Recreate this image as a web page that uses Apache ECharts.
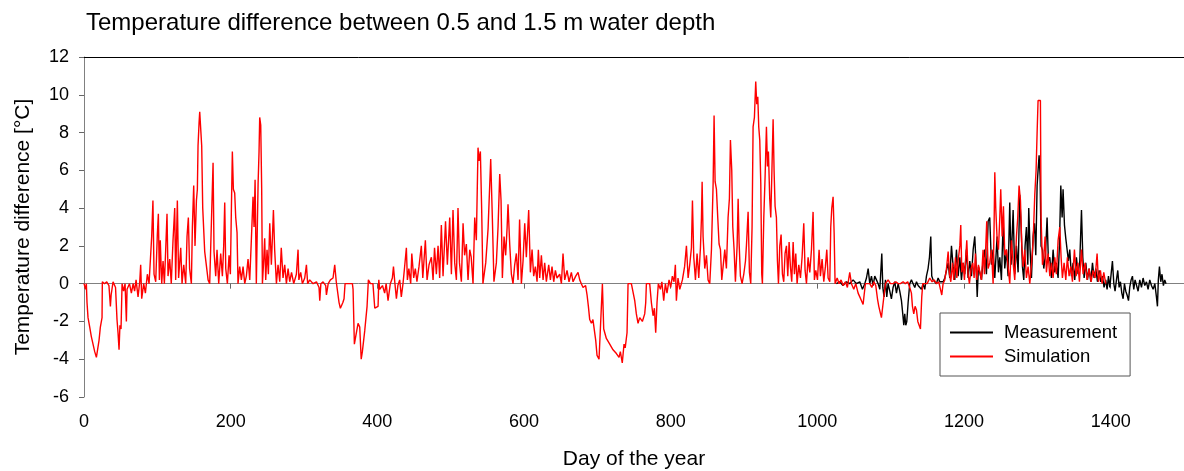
<!DOCTYPE html>
<html>
<head>
<meta charset="utf-8">
<script src="https://cdn.jsdelivr.net/npm/echarts@6/dist/echarts.min.js"></script>
<style>
  html, body { margin: 0; padding: 0; background: #fff; }
  #chart { width: 1184px; height: 471px; }
</style>
</head>
<body>
<div id="chart"></div>
<script>
// Simulation: day of the year / temperature difference (°C)
const simDays = [
  0, 1.4, 2.3, 3.2, 4.1, 5.5, 7.8, 10, 12.3, 14.6, 16.9, 19.1, 20.5, 22.3, 24.6, 25, 28, 31, 34, 36, 37, 39.6,
  42, 43, 45, 46.4, 47.8, 49, 50.5, 51.9, 54, 56, 57.8, 58.7, 62, 64.6, 67, 69, 71, 73.7, 76, 77.3, 78.7,
  81.4, 83.7, 86.4, 88.7, 91, 92.3, 94, 95.5, 97.8, 100, 101.4, 102.8, 104, 106, 107.8, 109.6, 111.4, 113.2,
  114.6, 116.9, 119, 121.4, 123.7, 125, 127.3, 129, 131.9, 133.7, 136, 138.7, 140.5, 142.3, 144, 146.4,
  147.8, 149.6, 151.4, 153.3, 154.6, 155.5, 156.9, 157.8, 159.2, 160.5, 161.9, 163, 164.6, 166.9, 169.2,
  171.4, 173.7, 176, 177.3, 179.6, 181.4, 183.7, 186.4, 188.7, 190.5, 191.9, 193.3, 195.5, 197.8, 199.6,
  201, 202.3, 203.7, 205.5, 206.9, 208.7, 210, 212.3, 214.6, 216.9, 219.2, 221.4, 223.7, 226, 228.3, 230.5,
  231.9, 233.3, 235, 237.4, 238.7, 239.6, 241, 242.3, 243.3, 245, 246.4, 247.8, 249.6, 251.4, 253.3, 255.5,
  256.9, 258.3, 260, 262.4, 264.6, 266.9, 269, 271.4, 273.7, 276, 278.3, 280.5, 283, 286, 289.6, 291.9,
  293, 295.5, 297.8, 301, 303.3, 305, 307.8, 312.4, 317, 320.5, 321.5, 323, 326, 329.6, 330.6, 333, 336,
  339.6, 341.9, 344, 346.5, 347.8, 349.6, 353, 354.6, 356, 360, 363, 366, 366.9, 368.7, 370.5, 373.7, 376,
  378, 379.6, 382.8, 386, 387.8, 390.6, 394, 396.5, 398.7, 401, 402, 403.2, 407, 410, 412, 414.6, 417.7,
  420.5, 422, 424, 426, 428, 430.5, 432.7, 435, 437, 439.6, 441, 443, 445.5, 447, 449.6, 451.8, 454, 456.8,
  460, 462, 465.5, 467.8, 470.5, 473.7, 476, 478, 480.5, 482.8, 485, 487.3, 489.6, 493, 495.5, 498.7, 501,
  503.2, 505.5, 507.8, 510, 512, 514.6, 516.9, 519, 521.4, 523.7, 526, 528, 530.5, 532.8, 535, 537.3, 538.7,
  540.5, 542.3, 544, 547.8, 551, 554.6, 556.9, 559, 562.3, 564.6, 566.9, 568.7, 570.5, 572.8, 575, 577,
  578.2, 580.5, 582.8, 585, 587.3, 589.6, 591.9, 594, 596.4, 598.7, 601, 603.2, 606.4, 608.7, 611, 613.2,
  615.5, 617.8, 619.6, 621.4, 623.7, 626, 628.2, 630.5, 633.7, 636, 638.2, 640.5, 642.8, 645, 648.7, 651,
  653.2, 655.5, 658.7, 661.4, 664.6, 666.9, 670.5, 673.7, 676, 678.2, 680.5, 684, 686, 687.8, 689.6, 691.9,
  694, 696.4, 697.8, 699.6, 702.3, 705, 706.9, 708.7, 712.3, 716.9, 721.4, 726, 729.6, 731.4, 734, 736.4,
  738, 740.5, 741.9, 746.4, 748.7, 751, 753.2, 755.5, 757.8, 761.4, 764.6, 766, 766.9, 771.4, 773.7, 776,
  777.8, 779.6, 781.4, 783.2, 786, 788, 790.5, 792.8, 795, 797.8, 800, 802.3, 804.6, 806.4, 807.8, 810,
  812.4, 816, 819, 821.5, 823.8, 826, 828.3, 829.7, 831.5, 833.8, 836, 838.3, 840.6, 842, 842.9, 844.2,
  846.5, 848.8, 851, 853.3, 855.6, 857.9, 859.2, 860.6, 862.4, 864.2, 866, 867.9, 869.7, 871.5, 873.8, 876,
  878.3, 880.1, 881.5, 883.3, 884.7, 886.5, 888.3, 890.6, 892, 893.3, 895.1, 897.4, 899.7, 902, 903.3,
  905.6, 907.4, 909.2, 911, 912.4, 914.2, 916, 917.4, 918.8, 920.1, 921.5, 922.9, 924.2, 925.1, 927, 928.8,
  930.6, 932, 933.3, 935.1, 936.5, 937.9, 939.7, 941, 942.4, 944.2, 945.6, 947, 948.8, 950.6, 952.4, 954.2,
  956, 957.9, 959.7, 961.5, 963.3, 965.1, 967, 968.8, 970.6, 972.4, 974.7, 977, 979.2, 981.5, 983.3, 985.2,
  987.4, 989.7, 992, 994.2, 996, 997.9, 1000.2, 1002.4, 1004.2, 1006.5, 1008.8, 1011, 1012.9, 1014.7, 1017,
  1018.3, 1019.7, 1021.5, 1022.9, 1024.2, 1027, 1029.7, 1032.4, 1035.2, 1038.3, 1041, 1044.2, 1046.5,
  1049.7, 1052.4, 1055.6, 1057.9, 1060.2, 1062.4, 1063.8, 1065.6, 1068.3, 1071.5, 1074.3, 1077, 1079.7,
  1082, 1083.8, 1085.6, 1087.4, 1089.3, 1091, 1092.9, 1096.5, 1099.7, 1103.3, 1107, 1110.2, 1113.3, 1117,
  1120, 1123.3, 1126, 1128.3, 1129.7, 1131.5, 1133.3, 1135.2, 1137, 1138.8, 1140.6, 1142.4, 1143.8, 1146.5,
  1149.7, 1153.3, 1156.5, 1159.3, 1162.4, 1165.6, 1167.9, 1169.7, 1171.5, 1173.8, 1176.1, 1178.4, 1180.2,
  1182, 1184.3, 1186, 1188.4, 1190.2, 1192, 1194.3, 1195.6, 1197, 1198.8, 1200.6, 1202.5, 1203.8, 1205.6,
  1207.4, 1209.7, 1212, 1213.8, 1215.6, 1217.4, 1219.7, 1221.5, 1223.8, 1226, 1227.9, 1229.7, 1231, 1232.9,
  1235.1, 1237.4, 1239.7, 1241, 1242, 1243.3, 1245.1, 1247, 1248.8, 1250.1, 1252, 1253.8, 1255.6, 1257.9,
  1260.1, 1262.4, 1264.7, 1267, 1269.2, 1271.5, 1273.3, 1275.1, 1277, 1278.8, 1280.6, 1282.9, 1285.1,
  1287.4, 1289.7, 1292, 1294.2, 1296.5, 1298.3, 1299.7, 1301, 1302.4, 1304.2, 1305.1, 1307, 1308.8, 1310.6,
  1312.4, 1314.7, 1317, 1319.2, 1321.5, 1323.8, 1326, 1328.3, 1330.6, 1332.4, 1334.2, 1336.5, 1338.8, 1341,
  1343.3, 1345.6, 1347.9, 1350.6, 1352.9, 1355.2, 1357.4, 1360.2, 1362.4, 1365.2, 1367.9, 1370.6, 1373.3,
  1376, 1378.8, 1381.5, 1383.3, 1386, 1388.3, 1390.6, 1393.3
];
const simValues = [
  0, 0, -0.3, 0, -1.0, -1.8, -2.3, -2.8, -3.2, -3.6, -3.9, -3.8, -3.0, -2.3, -1.8, 0.1, 0, 0.1, -0.1, -1.2, -0.6, 0.1,
  0, -0.2, -1.9, -2.6, -3.5, -2.2, -2.4, 0, -0.4, 0, -2.0, -0.3, 0, -0.5, 0, -0.4, 0.2, -0.7, 0.1, 1.0, -0.8,
  0, -0.5, 0.5, 0, 0.1, 2.5, 4.4, 0.5, 0.1, 2.6, 3.7, 0.2, 2.3, 0, 1.2, 0, 1.8, 3.7,
  0.4, 1.3, 0, 2.3, 4.0, 0.2, 4.4, 0.3, 1.9, 0, 1.0, 0, 2.5, 3.5, 0.8, 0,
  3.0, 5.2, 2.0, 4.4, 5.0, 7.3, 8.5, 9.1, 9.1, 7.3, 4.0, 3.9, 1.7, 1.7, 0.2,
  0, 0.1, 6.4, 1.7, 0.4, 1.8, 0, 1.6, 0.4, 2.0, 4.3, 0.8, 0, 1.5, 0.5,
  4.0, 7.0, 5.0, 4.8, 3.5, 2.7, 0, 0.9, 0.2, 0.9, 0, 0.4, 1.3, 0.2, 2.4, 4.6,
  3.0, 5.5, 0, 5.3, 7.0, 8.8, 8.4, 5.0, 0, 1.2, 2.4, 0.2, 1.8, 0.5, 3.2, 1.0,
  2.4, 3.9, 1.8, 0, 1.0, 0.1, 1.9, 0.3, 1.0, 0, 0.8, 0.1, 0.6, 0, 0.5, 1.8,
  0.2, 0.6, 0, 0.3, 1.0, 0, 0.2, 0, 0.1, -0.2, -0.9, 0, 0.1, -0.1, -0.6, 0, 0.2,
  0.3, 1.0, 0.1, 0, -1.0, -1.3, -1.0, -0.8, 0, 0, 0, 0, -0.3, -3.2, -2.8, -2.1, -2.3,
  -4.0, -3.6, -2.5, -1.2, 0.2, 0, 0, -1.3, -1.3, -1.2, 0.2, -0.3, -0.1, -0.5, 0, -0.9, 0,
  0.3, 0.9, 0, -0.8, -0.1, 0.2, -0.7, 0, 0.8, 1.9, 0.2, 0.8, 0, 1.6, 0.3, 0.8, 0.1, 0.9,
  2.0, 0.3, 2.3, 0.2, 1.0, 1.4, 0.2, 1.9, 0.5, 2.0, 0.3, 3.1, 0.4, 3.3, 1.0, 3.5, 0.5,
  3.9, 1.1, 0.2, 4.0, 1.1, 0.1, 3.2, 1.5, 2.1, 0.2, 1.8, 1.4, 0, 3.5, 2.3, 7.2, 6.5,
  7.0, 3.9, 0, 1.1, 2.9, 6.6, 3.4, 0.1, 1.1, 3.0, 5.8, 4.4, 0.3, 2.5, 1.5, 3.0,
  4.2, 2.1, 0.5, 0, 1.0, 1.6, 0.2, 3.4, 0, 1.2, 3.2, 1.4, 3.9, 0.6, 1.8, 0.4,
  0.9, 0.1, 1.8, 0.3, 1.5, 0.2, 1.1, 0.1, 1.0, 0.2, 0.9, 0.1, 0.7, 0.3, 0.5, 0,
  1.6, 0.2, 0.7, 0.1, 0.6, 0.1, 0.4, 0.6, 0.2, 0, -0.2, -0.1, -0.6, -1.2, -1.9, -2.1,
  -1.9, -1.8, -3.0, -3.8, -4.0, -4.0, 0, -2.4, -2.9, -3.2, -3.5, -3.7, -3.9, -3.6, -4.2, -3.2,
  -3.4, -2.6, 0, 0, 0, -0.9, -1.6, -2.1, -1.8, -2.0, -1.6, -1.0, 0, 0, -1.0, -1.7,
  -1.3, -2.6, -1.0, 0, -0.3, 0.1, -0.9, 0, -0.5, 0.2, -0.2, 0.4, 0.1, 1.0, -0.9, 0.3,
  -0.3, 0.2, 0.9, 2.0, 0.3, 1.0, 1.9, 4.4, 1.4, 0.2, 1.6, 0.3, 1.9, 3.5, 5.4, 2.5,
  0.8, 1.5, 0.2, 0, 1.8, 5.3, 8.9, 5.4, 5.0, 3.5, 2.1, 1.8, 0.2, 0.9, 1.8, 0.8,
  3.5, 4.5, 7.6, 6.0, 3.0, 1.8, 0.1, 2.0, 4.5, 2.2, 0.4, 0, 0.5, 1.2, 2.0,
  3.8, 0.6, 0, 3.0, 8.3, 8.8, 10.7, 9.5, 9.9, 8.3, 7.6, 5.3, 0.5, 0, 3.5, 5.7,
  8.3, 6.2, 7.0, 4.5, 3.5, 5.7, 8.7, 6.0, 4.1, 3.5, 1.2, 0, 2.0, 2.6, 0.5, 0.1,
  1.6, 2.0, 0.4, 2.2, 0.9, 0.1, 2.2, 0.5, 1.6, 0, 1.0, 0.3, 1.4, 3.2, 0.7, 0,
  1.4, 0.6, 1.8, 3.8, 0.2, 0.7, 0.2, 1.8, 0.4, 1.3, 0.1, 0.9, 1.8, 0.3, 0.1,
  3.0, 4.0, 4.6, 2.7, 0, 0.3, 0, 0.2, -0.1, 0.1, -0.2, 0.6, 0,
  -0.3, 0, -0.5, -0.7, -0.9, -1.1, -0.6, 0, 0.1, 0, -0.2, 0.1, -0.1,
  -0.8, -1.2, -1.5, -1.8, -1.8, -0.6, 0, 0.2, 0, 0, 0.1, 0, 0, 0.1,
  0, 0.1, -0.2, -0.5, -1.2, -1.6, -1.2, -1.4, -2.0, -2.1, -2.4, -0.7, 0, 0.1,
  0, 0.3, 0.1, 0.2, 0, 0.1, -0.3, -0.6, 0, 0.2, 0.8, 1.7, 0.5,
  0.1, 1.1, 0.2, 1.4, 0.3, 1.2, 2.0, 3.1, 0.6, 1.1, 0.2, 1.5, 2.3, 0.5,
  0, 0.8, 1.1, 0.3, 1.6, 0.2, 1.0, 0.9, 0.2, 1.8, 0.5, 2.0, 3.3, 0.8,
  1.1, 1.8, 0, 3.0, 5.9, 4.0, 2.4, 1.8, 3.5, 5.0, 2.5, 4.1, 1.5, 1.8,
  0.9, 0, 2.3, 1.1, 0.2, 2.5, 3.5, 5.2, 4.4, 2.0, 0.9, 1.8, 0.3,
  0.9, 0, 1.0, 2.2, 4.7, 6.0, 8.0, 9.7, 9.7, 9.7, 3.5, 1.0, 1.4, 2.5,
  0.6, 1.6, 0.4, 1.1, 0.3, 1.4, 0.5, 2.3, 3.0, 1.4, 0.3, 1.1, 0.2, 1.4,
  0.4, 0.9, 0.1, 1.8, 0.4, 1.1, 0.1, 1.8, 0.5, 1.1, 0.2, 0.8, 0.1,
  0.7, 0.3, 1.6, 0.1, 0.7, 0, 0.6, 0
];

// Measurement: day of the year / temperature difference (°C)
const measDays = [
  1026, 1030.6, 1035, 1039.7, 1044.2, 1048.8, 1053.3, 1057.9, 1061.5, 1064.7, 1067, 1069.3, 1071.5, 1073.8,
  1076, 1078.3, 1080.6, 1082.9, 1085.2, 1086.5, 1087.9, 1089.3, 1091, 1092.9, 1094.7, 1096.5, 1098.8, 1101,
  1103.3, 1105.6, 1107.9, 1110.2, 1112.4, 1114.7, 1116.5, 1117.9, 1119.2, 1120.6, 1122, 1123.8, 1126, 1128.3,
  1130.6, 1132.9, 1135.2, 1137.4, 1139.7, 1142, 1144.2, 1146.5, 1148.8, 1151, 1152.9, 1154.7, 1156, 1157.9,
  1160.2, 1162.4, 1164.7, 1167, 1169.3, 1171.5, 1173.8, 1176.1, 1178.4, 1180.6, 1182.9, 1185.2, 1187.4,
  1189.7, 1192, 1194.3, 1196.5, 1198.8, 1201, 1203.3, 1205.6, 1207.9, 1210.2, 1212.5, 1214.7, 1216, 1218,
  1219.7, 1221.5, 1223.8, 1226, 1228.3, 1230.6, 1232.9, 1235.1, 1237.4, 1239.7, 1242, 1245.1, 1247, 1248.8,
  1251, 1253.3, 1255.6, 1257.9, 1260.1, 1262.4, 1264.2, 1267, 1269.2, 1271.5, 1273.8, 1276, 1277.9, 1279.7,
  1281.5, 1283.3, 1285.1, 1287, 1288.3, 1290.1, 1292, 1294.2, 1296.1, 1297.9, 1299.7, 1301, 1302.4, 1303.8,
  1305.1, 1307, 1308.8, 1311, 1313.3, 1315.1, 1317, 1319.2, 1321.5, 1323.8, 1326, 1328.3, 1330.1, 1332,
  1333.8, 1335.1, 1337, 1338.8, 1340.6, 1342.4, 1344.2, 1346.5, 1348.8, 1351, 1353.3, 1355.6, 1357.9,
  1360.2, 1362, 1363.8, 1366.1, 1368.3, 1370.6, 1372.9, 1375.2, 1377.4, 1379.7, 1382, 1384.2, 1386.5,
  1388.8, 1391, 1393.3, 1395.1, 1397, 1398.8, 1400.6, 1402.4, 1404.3, 1406, 1407.9, 1409.7, 1411.5, 1413.3,
  1415.2, 1417, 1418.8, 1420.6, 1422.4, 1424.3, 1426, 1427.9, 1429.7, 1431.5, 1433.3, 1435.2, 1437.4,
  1439.7, 1442, 1444.2, 1446.5, 1448.8, 1451, 1453.3, 1455.6, 1457.9, 1460.2, 1462.4, 1463.8, 1465, 1466.5,
  1468.3, 1470, 1471.9, 1473.7, 1475.5
];
const measValues = [
  0, 0.1, -0.1, 0.1, 0, 0.2, 0, 0.1, -0.3, 0, 0.3, 0.8, 0, 0.4,
  -0.1, 0.4, 0.2, 0, -0.3, 0.6, 1.6, -0.2, -0.7, 0.2, -0.7, 0, -0.4, -0.8,
  -0.2, 0.1, -0.5, 0, -0.4, -0.9, -1.6, -2.2, -1.6, -2.2, -2.0, -1.0, 0, 0.2,
  0, -0.2, 0.1, -0.1, 0, -0.3, 0, -0.3, 0.4, 0.8, 1.4, 2.5, 0.4, 0.2,
  0.2, 0, 0.3, 0.1, 0, 0.1, 0.3, 0.7, 1.1, 0.3, 2.0, 0.9, 0.2,
  1.8, 0.4, 1.4, 0.2, 1.1, 0.5, 1.8, 0.3, 1.2, 0.4, 1.8, 2.5, 1.4, -0.7,
  0.9, 0.8, 0.2, 1.2, 1.8, 0.5, 3.3, 3.5, 1.0, 1.8, 0.3, 2.5, 0.6, 1.4,
  0.2, 3.2, 0.8, 1.8, 0.4, 4.3, 1.0, 3.9, 0.5, 2.0, 0.6, 4.7, 3.0, 0.9,
  0.2, 2.0, 3.0, 1.0, 4.0, 1.8, 0.3, 2.5, 3.2, 1.5, 5.2, 6.0, 6.8, 5.7,
  2.0, 1.8, 0.8, 1.5, 3.5, 1.2, 1.4, 0.3, 1.8, 0.6, 1.1, 0.3, 2.0, 5.2,
  3.5, 5.0, 3.1, 2.4, 2.5, 1.2, 1.8, 0.4, 1.1, 0.2, 1.4, 0.5, 1.2,
  3.9, 1.4, 0.3, 1.1, 0.2, 0.8, 0.1, 1.1, 0.3, 0.8, 0.1, 0.7, 0.1,
  0.4, -0.2, 0.2, -0.3, 0.4, -0.2, 0.5, 1.2, 0, -0.4, 0.2, 0.7, -0.2, 0.1,
  -0.5, -0.8, 0, -0.4, -0.6, -0.9, -0.2, 0.2, 0.4, -0.3, 0.2, 0.1, -0.4,
  0.2, -0.2, 0.3, -0.1, 0.1, -0.3, 0.2, -0.1, -0.3, 0, -0.7, -1.2, 0.2, 0.9,
  0.1, 0.5, -0.1, 0.2, 0
];

const xTickInterval = 200;
const yTicks = { min: -6, max: 12, interval: 2 };

const zip = (xs, ys) => xs.map((x, i) => [x, ys[i]]);

const font = "'Liberation Sans', Arial, sans-serif";
const chart = echarts.init(document.getElementById('chart'), null, { renderer: 'canvas' });

chart.setOption({
  animation: false,
  backgroundColor: '#fff',
  textStyle: { fontFamily: font },
  title: {
    text: 'Temperature difference between 0.5 and 1.5 m water depth',
    left: 81,
    top: 6,
    textStyle: { fontFamily: font, fontSize: 24, fontWeight: 'normal', color: '#000' }
  },
  grid: { left: 84, right: 0, top: 57, bottom: 74, outerBoundsMode: 'none' },
  legend: {
    orient: 'vertical',
    left: 940,
    top: 313,
    padding: [10, 13, 10, 9],
    itemWidth: 43,
    itemHeight: 14,
    itemGap: 5,
    borderColor: '#555',
    borderWidth: 1,
    itemStyle: { opacity: 0 },
    textStyle: { fontFamily: font, fontSize: 18.5, color: '#000', padding: [0, 0, 0, 6] },
    data: ['Measurement', 'Simulation']
  },
  xAxis: [
    {
      type: 'value',
      min: 0,
      max: 1500,
      interval: xTickInterval,
      name: 'Day of the year',
      nameLocation: 'middle',
      nameGap: 52,
      nameTextStyle: { fontFamily: font, fontSize: 21, color: '#000' },
      axisLine: { lineStyle: { color: '#808080', width: 1 } },
      axisTick: { length: 5, lineStyle: { color: '#666' } },
      axisLabel: {
        fontFamily: font, fontSize: 18, color: '#000', margin: 16, showMaxLabel: false,
        formatter: (v) => String(v)
      },
      splitLine: { show: false }
    },
    {
      type: 'value',
      position: 'top',
      min: 0,
      max: 1500,
      axisLine: { show: true, lineStyle: { color: '#000', width: 1 } },
      axisTick: { show: false },
      axisLabel: { show: false },
      splitLine: { show: false }
    }
  ],
  yAxis: {
    type: 'value',
    min: yTicks.min,
    max: yTicks.max,
    interval: yTicks.interval,
    name: 'Temperature difference [°C]',
    nameLocation: 'middle',
    nameGap: 50,
    nameTextStyle: { fontFamily: font, fontSize: 21, color: '#000' },
    axisLine: { show: true, lineStyle: { color: '#808080', width: 1 } },
    axisTick: { show: true, length: 5, lineStyle: { color: '#666' } },
    axisLabel: { fontFamily: font, fontSize: 18, color: '#000', margin: 15 },
    splitLine: { show: false }
  },
  series: [
    {
      name: 'Measurement',
      type: 'line',
      symbol: 'none',
      xAxisIndex: 0,
      lineStyle: { color: '#000', width: 1.4 },
      itemStyle: { color: '#000' },
      data: zip(measDays, measValues)
    },
    {
      name: 'Simulation',
      type: 'line',
      symbol: 'none',
      xAxisIndex: 0,
      lineStyle: { color: '#ff0000', width: 1.4 },
      itemStyle: { color: '#ff0000' },
      data: zip(simDays, simValues)
    }
  ]
});
</script>
</body>
</html>
